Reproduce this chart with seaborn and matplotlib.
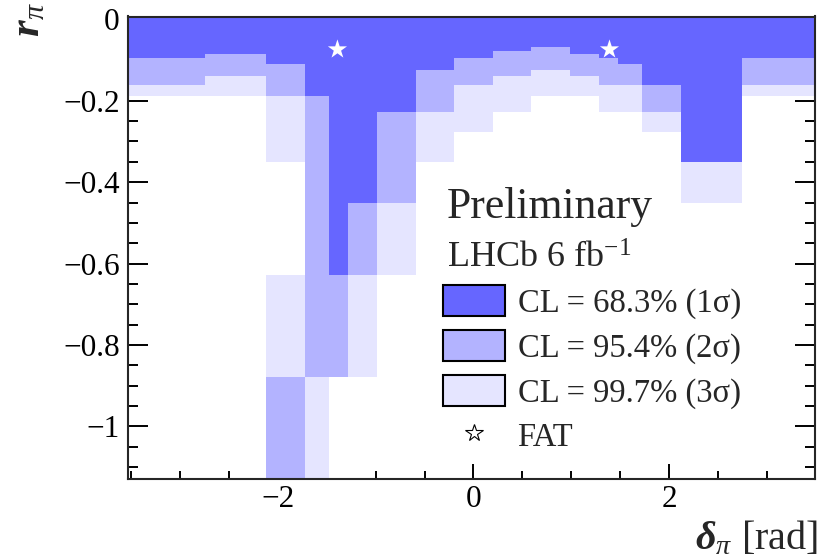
import numpy as np
import pandas as pd
import matplotlib
matplotlib.use("Agg")
import matplotlib.pyplot as plt
from matplotlib.colors import ListedColormap
from matplotlib.patches import Patch
from matplotlib.lines import Line2D
from matplotlib.ticker import MultipleLocator, FixedLocator, FixedFormatter
import seaborn as sns

# ---------------- data ----------------
delta_edges = [-3.6, -2.742, -2.119, -1.724, -1.474, -1.281, -0.982, -0.587, -0.196,
               0.196, 0.587, 0.982, 1.281, 1.474, 1.724, 2.119, 2.742, 3.6]
r_edges = [0.01, -0.069, -0.077, -0.084, -0.096, -0.110, -0.125, -0.139, -0.161,
           -0.188, -0.227, -0.276, -0.351, -0.452, -0.628, -0.878, -1.15]
# CL level of each cell, one string per delta column, rows from top (r=0) down:
# 1 = 68.3%, 2 = 95.4%, 3 = 99.7%, 0 = outside
cl_columns = [
    "1111222230000000",
    "1112222330000000",
    "1111122223330032",
    "1111111112222223",
    "1111111111111120",
    "1111111111111230",
    "1111111111222300",
    "1111112222330000",
    "1111222233300000",
    "1122222333000000",
    "1222223330000000",
    "1112222330000000",
    "1111222233000000",
    "1111122233000000",
    "1111111122300000",
    "1111111111113000",
    "1111222230000000",
]
fat_delta = [-1.39, 1.39]
fat_r = [-0.074, -0.074]
legend_labels = ["CL = 68.3% (1σ)", "CL = 95.4% (2σ)", "CL = 99.7% (3σ)", "FAT"]
xtick_values = [-2, 0, 2]
xtick_labels = ["−2", "0", "2"]
ytick_values = [-1.0, -0.8, -0.6, -0.4, -0.2, 0.0]
ytick_labels = ["−1", "−0.8", "−0.6", "−0.4", "−0.2", "0"]

col_dark = "#6666ff"
col_mid = "#b3b3ff"
col_light = "#e5e5ff"

# ---------------- table ----------------
rows = []
for i, col in enumerate(cl_columns):
    xc = 0.5 * (delta_edges[i] + delta_edges[i + 1])
    for j, ch in enumerate(col):
        yc = 0.5 * (r_edges[j] + r_edges[j + 1])
        lvl = int(ch)
        rows.append((xc, yc, 0 if lvl == 0 else 4 - lvl))
df = pd.DataFrame(rows, columns=["delta", "r", "w"])

# ---------------- style ----------------
sns.set_style("ticks")
plt.rcParams["font.family"] = ["Liberation Serif", "DejaVu Serif"]
plt.rcParams["mathtext.fontset"] = "custom"
plt.rcParams["mathtext.rm"] = "Liberation Serif"
plt.rcParams["mathtext.it"] = "Liberation Serif:italic"
plt.rcParams["mathtext.bf"] = "Liberation Serif:bold:italic"
plt.rcParams["axes.unicode_minus"] = True

fig = plt.figure(figsize=(8.17, 5.58), dpi=100)
ax = fig.add_axes([128 / 817, 1 - 478.5 / 558, 687 / 817, 462 / 558])

sns.histplot(data=df, x="delta", y="r", weights="w",
             bins=[np.array(delta_edges), np.sort(np.array(r_edges))],
             cmap=ListedColormap([col_light, col_mid, col_dark]),
             vmin=0.5, vmax=3.5, thresh=0, ax=ax, linewidth=0)

sns.scatterplot(x=fat_delta, y=fat_r, marker="*", s=210, color="white",
                edgecolor="none", ax=ax, zorder=5)

ax.set_xlim(-3.53, 3.49)
ax.set_ylim(-1.128, 0.007)
ax.set_xlabel("")
ax.set_ylabel("")

ax.xaxis.set_major_locator(FixedLocator(xtick_values))
ax.xaxis.set_major_formatter(FixedFormatter(xtick_labels))
ax.xaxis.set_minor_locator(MultipleLocator(0.5))
ax.yaxis.set_major_locator(FixedLocator(ytick_values))
ax.yaxis.set_major_formatter(FixedFormatter(ytick_labels))
ax.yaxis.set_minor_locator(MultipleLocator(0.05))

for s in ax.spines.values():
    s.set_linewidth(1.5)
    s.set_visible(True)
ax.tick_params(which="both", direction="in", top=True, right=True, width=1.4,
               labelsize=22.5, colors="black")
ax.tick_params(axis="x", which="major", length=10.5, pad=5)
ax.tick_params(axis="x", which="minor", length=5.5)
ax.tick_params(axis="y", which="major", length=14.5, pad=6)
ax.tick_params(axis="y", which="minor", length=7.5)

fig.text(0.036, 0.997, r"$\mathbf{r}_{\pi}$", rotation=90, ha="center", va="top",
         fontsize=31)
fig.text(1.002, 0.016, r"$\mathbf{\delta}_{\pi}$ [rad]", ha="right", va="baseline",
         fontsize=29)

ax.text((447 - 128) / 687, (478.5 - 218) / 462, "Preliminary", transform=ax.transAxes,
        fontsize=31.5, ha="left", va="baseline")
ax.text((447 - 128) / 687, (478.5 - 268) / 462, r"LHCb 6 fb$^{\mathregular{-1}}$",
        transform=ax.transAxes, fontsize=26, ha="left", va="baseline")

fs_leg = 23.5
fs_px = fs_leg / 72 * 100
hl = 62 / fs_px
hh = (31 / fs_px - 0.245) / 0.65
handles = [
    Patch(facecolor=col_dark, edgecolor="black", linewidth=1.5),
    Patch(facecolor=col_mid, edgecolor="black", linewidth=1.5),
    Patch(facecolor=col_light, edgecolor="black", linewidth=1.5),
    Line2D([], [], marker="*", markerfacecolor="white", markeredgecolor="black",
           markeredgewidth=0.8, markersize=13, linestyle="None"),
]
ax.legend(handles, legend_labels, loc="upper left",
          bbox_to_anchor=((443 - 128) / 687, (478.5 - 285) / 462),
          frameon=False, fontsize=fs_leg, handlelength=hl, handleheight=hh,
          handletextpad=12.5 / fs_px, labelspacing=0.34, borderpad=0, borderaxespad=0)

fig.savefig("out.png", dpi=100)
